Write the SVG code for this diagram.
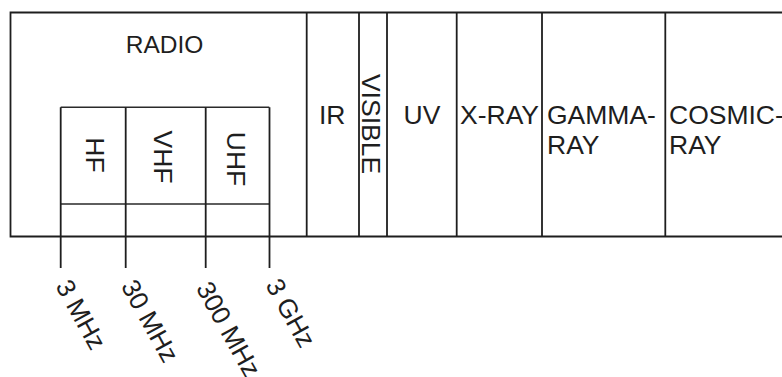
<svg xmlns="http://www.w3.org/2000/svg" width="782" height="377" viewBox="0 0 782 377">
<style>
  .ln{stroke:#1e1e1e;stroke-width:1.8;fill:none}
  .lt{stroke:#2a2a2a;stroke-width:1.5;fill:none}
  .t{font-family:"Liberation Sans",Arial,sans-serif;font-size:26.5px;fill:#1e1e1e}
  .r{font-size:24.5px}
  .f{font-size:26px}
</style>
<rect width="782" height="377" fill="#fff"/>
<g id="frame">
  <path class="ln" d="M782 12.5H10.5V236.5H782"/>
</g>
<g id="radio">
  <path class="ln" d="M306.7 12.5V236.5"/>
  <text class="t r" x="164.5" y="53.3" text-anchor="middle">RADIO</text>
</g>
<g id="hf">
  <text class="t" transform="translate(86,155) rotate(90)" text-anchor="middle">HF</text>
</g>
<g id="vhf">
  <text class="t" transform="translate(154,157) rotate(90)" text-anchor="middle">VHF</text>
</g>
<g id="uhf">
  <text class="t" transform="translate(226.5,159) rotate(90)" text-anchor="middle">UHF</text>
</g>
<g id="bands-box">
  <path class="lt" d="M60.7 107.3H269.3M60.7 204H269.3"/>
</g>
<g id="ir">
  <path class="ln" d="M359 12.5V236.5"/>
  <text class="t" x="319" y="124">IR</text>
</g>
<g id="visible">
  <path class="ln" d="M387 12.5V236.5"/>
  <text class="t" transform="translate(361.5,124) rotate(90)" text-anchor="middle">VISIBLE</text>
</g>
<g id="uv">
  <path class="ln" d="M456.7 12.5V236.5"/>
  <text class="t" x="403.5" y="124">UV</text>
</g>
<g id="xray">
  <path class="ln" d="M542 12.5V236.5"/>
  <text class="t" x="460" y="124">X-RAY</text>
</g>
<g id="gamma">
  <path class="ln" d="M665.3 12.5V236.5"/>
  <text class="t" x="547" y="124">GAMMA-</text>
  <text class="t" x="547" y="154">RAY</text>
</g>
<g id="cosmic">
  <text class="t" x="669" y="124">COSMIC-</text>
  <text class="t" x="669" y="154">RAY</text>
</g>
<g id="connectors">
  <path class="ln" d="M60.7 107.3V268M125.7 107.3V268M205.7 107.3V268M269.5 107.3V268"/>
</g>
<g id="f3mhz"><text class="t f" transform="translate(55,286) rotate(61)">3 MHz</text></g>
<g id="f30mhz"><text class="t f" transform="translate(120.5,286) rotate(61)">30 MHz</text></g>
<g id="f300mhz"><text class="t f" transform="translate(195.5,288) rotate(61)">300 MHz</text></g>
<g id="f3ghz"><text class="t f" transform="translate(265,285) rotate(61)">3 GHz</text></g>
</svg>
